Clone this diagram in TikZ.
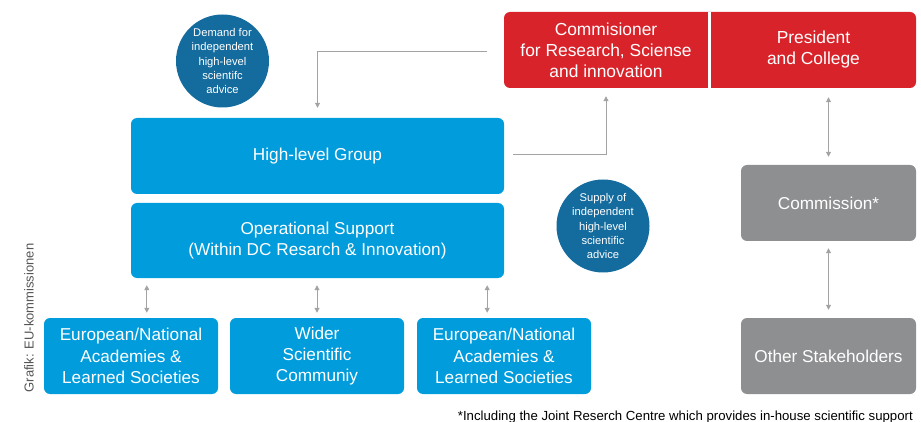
\documentclass[tikz,border=0pt]{standalone}
\usepackage{fontspec}
\setmainfont{Liberation Sans}
\usetikzlibrary{arrows.meta,calc}
\definecolor{eublue}{HTML}{009CDC}
\definecolor{eudark}{HTML}{136B9E}
\definecolor{eured}{HTML}{D9232A}
\definecolor{eugray}{HTML}{8E8F91}
\definecolor{conncol}{HTML}{A3A3A3}
\definecolor{txtgray}{HTML}{555555}
\begin{document}
\begin{tikzpicture}[x=1pt,y=-1pt,
  box/.style={rectangle,rounded corners=6pt,text=white,align=center,
    font=\fontsize{17.2}{21.3}\selectfont,inner sep=0pt},
  bluebox/.style={box,fill=eublue},
  graybox/.style={box,fill=eugray},
  redtext/.style={rectangle,text=white,align=center,inner sep=0pt,
    font=\fontsize{17.4}{21}\selectfont,minimum width=204pt,minimum height=76pt},
  bubble/.style={circle,fill=eudark,text=white,align=center,inner sep=0pt,
    minimum size=93pt,font=\fontsize{11.2}{14.2}\selectfont},
  conn/.style={draw=conncol,line width=1pt,-{Triangle[width=5pt,length=5pt]}},
  dconn/.style={draw=conncol,line width=1pt,{Triangle[width=5pt,length=5pt]}-{Triangle[width=5pt,length=5pt]}}
]
\useasboundingbox (0,0) rectangle (921,422);
% red combined box
\node[rectangle,rounded corners=6pt,fill=eured,minimum width=412pt,minimum height=76pt,inner sep=0pt] (redbox) at (710,50) {};
\node[redtext] (comm) at (606,50) {Commisioner\\for Research, Sciense\\and innovation};
\node[redtext,minimum width=205pt] (pres) at (813.5,50) {President\\and College};
\draw[white,line width=2.5pt] (redbox.north -| 709.5,0) -- (redbox.south -| 709.5,0);

\node[bluebox,minimum width=373pt,minimum height=76pt] (hlg) at (317.5,156) {High-level Group};
\node[bluebox,minimum width=373pt,minimum height=75pt] (ops) at (317.5,240.5) {Operational Support\\(Within DC Resarch \& Innovation)};
\node[bluebox,minimum width=174pt,minimum height=76pt] (b1) at (131,356) {European/National\\Academies \&\\Learned Societies};
\node[bluebox,minimum width=174pt,minimum height=76pt] (b2) at (317,356) {Wider\\Scientific\\Communiy};
\node[bluebox,minimum width=174pt,minimum height=76pt] (b3) at (504,356) {European/National\\Academies \&\\Learned Societies};
\node[graybox,minimum width=175pt,minimum height=76pt] (cgray) at (828.5,203) {Commission*};
\node[graybox,minimum width=175pt,minimum height=76pt] (other) at (828.5,356) {Other Stakeholders};

\node[bubble] (demand) at (222.5,61) {Demand for\\independent\\high-level\\scientifc\\advice};
\node[bubble] (supply) at (603,226) {Supply of\\independent\\high-level\\scientific\\advice};

% connectors
\coordinate (dstart) at (487,52);
\draw[conn] (dstart) -| ([yshift=10pt]hlg.north);
\draw[conn] ([xshift=9pt,yshift=1pt]hlg.east) -| ([yshift=-8pt]comm.south);
\draw[dconn] ($(pres.south -| cgray.north)+(0,9)$) -- ($(cgray.north)+(0,-8)$);
\draw[dconn] ($(cgray.south)+(0,7)$) -- ($(other.north)+(0,-8)$);
\draw[dconn] ($(ops.south west)+(16,7)$) -- ($(ops.south west |- b1.north)+(16,-5)$);
\draw[dconn] ($(ops.south -| b2.north)+(0,7)$) -- ($(b2.north)+(0,-5)$);
\draw[dconn] ($(ops.south east)+(-17,7)$) -- ($(ops.south east |- b3.north)+(-17,-5)$);

% credits and footnote
\node[rotate=90,text=txtgray,font=\fontsize{13}{15}\selectfont,inner sep=0pt] (credit) at (29,318) {Grafik: EU-kommissionen};
\node[anchor=base east,text=black,font=\fontsize{13.2}{15}\selectfont,inner sep=0pt] (foot) at (913,420) {*Including the Joint Reserch Centre which provides in-house scientific support};
\end{tikzpicture}
\end{document}
